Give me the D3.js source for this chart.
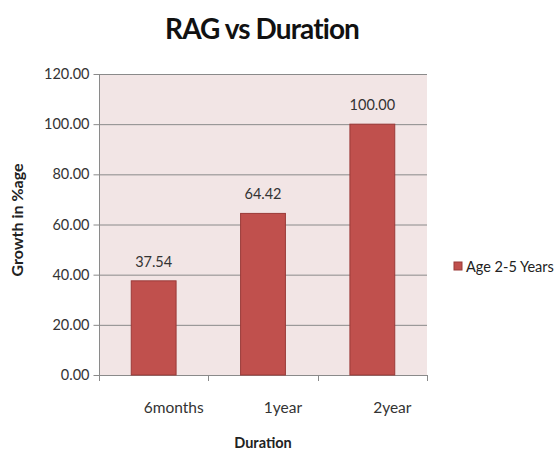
<!DOCTYPE html>
<html>
<head>
<meta charset="utf-8">
<script src="https://cdn.jsdelivr.net/npm/d3@7"></script>
<style>
  body { margin: 0; background: #fff; }
  svg { display: block; }
  text { font-family: Lato, "Open Sans", sans-serif; }
</style>
</head>
<body>
<svg id="chart" width="556" height="454"></svg>
<script>
const categories = ["6months", "1year", "2year"];
const values = [37.54, 64.42, 100.00];
const yTicks = [0, 20, 40, 60, 80, 100, 120];
const seriesName = "Age 2-5 Years";
const title = "RAG vs Duration";
const xTitle = "Duration";
const yTitle = "Growth in %age";

const svg = d3.select("#chart");
const m = { left: 99, right: 427, top: 74, bottom: 375 };

const x = d3.scaleBand().domain(categories).range([m.left, m.right]).paddingInner(0.59).paddingOuter(0.295);
const y = d3.scaleLinear().domain([0, 120]).range([m.bottom, m.top]);

// plot background
svg.append("rect")
  .attr("x", m.left).attr("y", m.top)
  .attr("width", m.right - m.left).attr("height", m.bottom - m.top)
  .attr("fill", "#F2E5E5");

// gridlines
svg.append("g").selectAll("line").data(yTicks.filter(d => d > 0)).join("line")
  .attr("x1", m.left).attr("x2", m.right)
  .attr("y1", d => y(d) + 0.5).attr("y2", d => y(d) + 0.5)
  .attr("stroke", "#8a8a8a").attr("stroke-width", 1);

// y axis
const yAxis = d3.axisLeft(y).tickValues(yTicks).tickFormat(d3.format(".2f")).tickSize(6).tickPadding(4);
const gy = svg.append("g").attr("transform", `translate(${m.left + 0.5},0)`).call(yAxis);
gy.selectAll("path, line").attr("stroke", "#8a8a8a");
gy.selectAll("text").attr("font-size", 14.5).attr("fill", "#333");
gy.select(".domain").attr("d", `M0,${m.top}V${m.bottom}`);

// x axis
const boundaries = [m.left, ...categories.map(c => x(c) + x.bandwidth() / 2 + x.step() / 2)];
const gx = svg.append("g");
gx.append("line").attr("x1", m.left).attr("x2", m.right)
  .attr("y1", m.bottom + 0.5).attr("y2", m.bottom + 0.5).attr("stroke", "#8a8a8a");
gx.selectAll("line.tk").data(boundaries).join("line").attr("class", "tk")
  .attr("x1", d => Math.round(d) + 0.5).attr("x2", d => Math.round(d) + 0.5)
  .attr("y1", m.bottom).attr("y2", m.bottom + 6).attr("stroke", "#8a8a8a");
gx.selectAll("text").data(categories).join("text")
  .attr("x", d => x(d) + x.bandwidth() / 2 + 20)
  .attr("y", 413)
  .attr("text-anchor", "middle").attr("font-size", 15.5).attr("fill", "#333")
  .text(d => d);

// bars
svg.append("g").selectAll("rect").data(values).join("rect")
  .attr("x", (d, i) => x(categories[i]))
  .attr("y", d => y(d))
  .attr("width", x.bandwidth())
  .attr("height", d => y(0) - y(d))
  .attr("fill", "#C0504D")
  .attr("stroke", "#9A3A38").attr("stroke-width", 1);

// data labels
svg.append("g").selectAll("text").data(values).join("text")
  .attr("x", (d, i) => x(categories[i]) + x.bandwidth() / 2)
  .attr("y", d => y(d) - 14)
  .attr("text-anchor", "middle").attr("font-size", 14.5).attr("fill", "#333")
  .text(d => d3.format(".2f")(d));

// title
svg.append("text").attr("x", 262).attr("y", 39).attr("text-anchor", "middle")
  .attr("font-size", 28).attr("font-weight", "bold").attr("letter-spacing", -0.9)
  .attr("fill", "#111").text(title);

// axis titles
svg.append("text").attr("x", 263).attr("y", 448).attr("text-anchor", "middle")
  .attr("font-size", 14.5).attr("font-weight", "bold").attr("fill", "#222").text(xTitle);
svg.append("text").attr("transform", "translate(23,220) rotate(-90)").attr("text-anchor", "middle")
  .attr("font-size", 16).attr("font-weight", "bold").attr("fill", "#222").text(yTitle);

// legend
const lg = svg.append("g").attr("transform", "translate(454,262)");
lg.append("rect").attr("width", 8).attr("height", 8).attr("fill", "#C0504D").attr("stroke", "#9A3A38");
lg.append("text").attr("x", 12).attr("y", 9.5).attr("font-size", 14.5).attr("fill", "#222").text(seriesName);
</script>
</body>
</html>
